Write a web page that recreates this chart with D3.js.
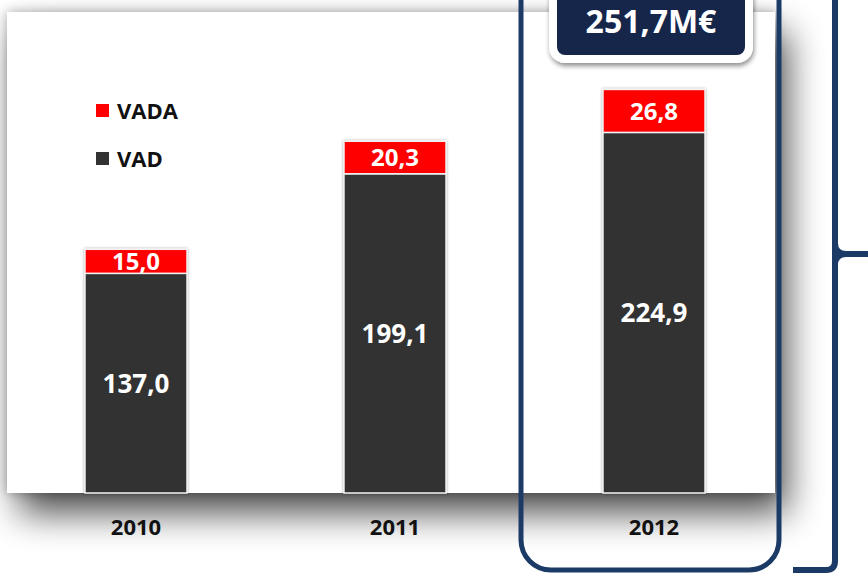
<!DOCTYPE html>
<html>
<head>
<meta charset="utf-8">
<script src="https://cdn.jsdelivr.net/npm/d3@7"></script>
<style>
  body { margin: 0; background: #ffffff; }
  text { font-family: "Open Sans", "Liberation Sans", sans-serif; font-weight: bold; }
</style>
</head>
<body>
<script>
// chart data
var years = ["2010", "2011", "2012"];
var vad = [137.0, 199.1, 224.9];
var vada = [15.0, 20.3, 26.8];
var seriesNames = ["VADA", "VAD"];
var totalLabel = "251,7M€";

var svgWidth = 868;
var svgHeight = 578;

var colors = { VAD: "#333333", VADA: "#ff0000" };
var navy = "#1b3a66";

var svg = d3.select("body")
  .append("svg")
  .attr("width", svgWidth)
  .attr("height", svgHeight);

// filters for the soft shadows
var defs = svg.append("defs");

var panelShadow = defs.append("filter")
  .attr("id", "panelShadow")
  .attr("x", "-10%").attr("y", "-10%")
  .attr("width", "125%").attr("height", "140%");
panelShadow.append("feGaussianBlur").attr("in", "SourceAlpha").attr("stdDeviation", 6).attr("result", "glow");
panelShadow.append("feComponentTransfer").attr("in", "glow").attr("result", "glowA")
  .append("feFuncA").attr("type", "linear").attr("slope", 0.3);
panelShadow.append("feGaussianBlur").attr("in", "SourceAlpha").attr("stdDeviation", 18).attr("result", "blur");
panelShadow.append("feOffset").attr("in", "blur").attr("dx", 12).attr("dy", 20).attr("result", "off");
panelShadow.append("feComponentTransfer").attr("in", "off").attr("result", "offA")
  .append("feFuncA").attr("type", "linear").attr("slope", 0.7);
var pm = panelShadow.append("feMerge");
pm.append("feMergeNode").attr("in", "offA");
pm.append("feMergeNode").attr("in", "glowA");
pm.append("feMergeNode").attr("in", "SourceGraphic");

var smallShadow = defs.append("filter")
  .attr("id", "smallShadow")
  .attr("x", "-20%").attr("y", "-20%")
  .attr("width", "140%").attr("height", "150%");
smallShadow.append("feGaussianBlur").attr("in", "SourceAlpha").attr("stdDeviation", 2.5).attr("result", "b");
smallShadow.append("feOffset").attr("in", "b").attr("dx", 1).attr("dy", 3).attr("result", "o");
smallShadow.append("feComponentTransfer").attr("in", "o").attr("result", "oa")
  .append("feFuncA").attr("type", "linear").attr("slope", 0.45);
var sm = smallShadow.append("feMerge");
sm.append("feMergeNode").attr("in", "oa");
sm.append("feMergeNode").attr("in", "SourceGraphic");

var barShadow = defs.append("filter")
  .attr("id", "barShadow")
  .attr("x", "-10%").attr("y", "-10%")
  .attr("width", "120%").attr("height", "120%");
barShadow.append("feGaussianBlur").attr("in", "SourceAlpha").attr("stdDeviation", 1.5).attr("result", "b");
barShadow.append("feComponentTransfer").attr("in", "b").attr("result", "ba")
  .append("feFuncA").attr("type", "linear").attr("slope", 0.35);
var bm = barShadow.append("feMerge");
bm.append("feMergeNode").attr("in", "ba");
bm.append("feMergeNode").attr("in", "SourceGraphic");

// scales
var x = d3.scaleBand()
  .domain(years)
  .range([6.5, 783.5])
  .paddingInner(0.606)
  .paddingOuter(0.303);

var y = d3.scaleLinear()
  .domain([0, 300])
  .range([493, 12]);

// white plot panel
svg.append("rect")
  .attr("x", 7)
  .attr("y", y(300))
  .attr("width", 768)
  .attr("height", y(0) - y(300))
  .attr("fill", "#ffffff")
  .attr("filter", "url(#panelShadow)");

// stacked data
var table = years.map(function(yr, i) {
  return { year: yr, VAD: vad[i], VADA: vada[i] };
});
var stack = d3.stack().keys(["VAD", "VADA"]);
var layers = stack(table);

var fmt = function(v) { return d3.format(".1f")(v).replace(".", ","); };

var barGroup = svg.append("g").attr("filter", "url(#barShadow)");

barGroup.selectAll("g.layer")
  .data(layers)
  .enter()
  .append("g")
  .attr("class", "layer")
  .attr("fill", d => colors[d.key])
  .selectAll("rect")
  .data(d => d)
  .enter()
  .append("rect")
  .attr("x", d => x(d.data.year))
  .attr("y", d => y(d[1]))
  .attr("width", x.bandwidth())
  .attr("height", d => y(d[0]) - y(d[1]))
  .attr("stroke", "#f2f2f2")
  .attr("stroke-width", 1.5);

// value labels inside the segments
layers.forEach(function(layer) {
  svg.append("g").selectAll("text")
    .data(layer)
    .enter()
    .append("text")
    .attr("x", d => x(d.data.year) + x.bandwidth() / 2)
    .attr("y", d => (y(d[0]) + y(d[1])) / 2)
    .attr("dy", "0.36em")
    .attr("text-anchor", "middle")
    .attr("fill", "#ffffff")
    .attr("font-size", layer.key === "VAD" ? 26 : 24)
    .text(d => fmt(d.data[layer.key]));
});

// category axis (no line, no ticks)
var xAxis = d3.axisBottom(x).tickSize(0).tickPadding(0);
var axisG = svg.append("g")
  .attr("transform", "translate(0, 535)")
  .call(xAxis);
axisG.select(".domain").remove();
axisG.selectAll("text")
  .attr("dy", 0)
  .attr("font-size", 22)
  .attr("fill", "#111111")
  .style("font-family", "'Open Sans', sans-serif")
  .style("font-weight", "bold");

// legend
var legend = svg.append("g").attr("transform", "translate(96, 104)");
seriesNames.forEach(function(name, i) {
  legend.append("rect")
    .attr("x", 0)
    .attr("y", i * 48)
    .attr("width", 13)
    .attr("height", 13)
    .attr("fill", colors[name]);
  legend.append("text")
    .attr("x", 21)
    .attr("y", i * 48 + 15)
    .attr("font-size", 22)
    .attr("fill", "#111111")
    .text(name);
});

// highlight frame around the last year
var last = years[years.length - 1];
var frameX = x(last) + x.bandwidth() / 2 - 133;
svg.append("rect")
  .attr("x", frameX)
  .attr("y", -40)
  .attr("width", 258)
  .attr("height", 570 + 40)
  .attr("rx", 30)
  .attr("fill", "none")
  .attr("stroke", navy)
  .attr("stroke-width", 5);

// total label box
var boxCx = x(last) + x.bandwidth() / 2 - 3;
svg.append("rect")
  .attr("x", boxCx - 98)
  .attr("y", -20)
  .attr("width", 196)
  .attr("height", 79)
  .attr("rx", 12)
  .attr("fill", "#14284b")
  .attr("stroke", "#ffffff")
  .attr("stroke-width", 8)
  .attr("filter", "url(#smallShadow)");

svg.append("text")
  .attr("x", boxCx)
  .attr("y", 33)
  .attr("text-anchor", "middle")
  .attr("font-size", 32)
  .attr("fill", "#ffffff")
  .text(totalLabel);

// right-hand brace
svg.append("path")
  .attr("d", "M835,-5 V561 Q835,570 826,570 H793 M835,243 Q835,254 846,254 H872 M846,254 Q835,254 835,265")
  .attr("fill", "none")
  .attr("stroke", navy)
  .attr("stroke-width", 6)
  .attr("stroke-linejoin", "round");
</script>
</body>
</html>
